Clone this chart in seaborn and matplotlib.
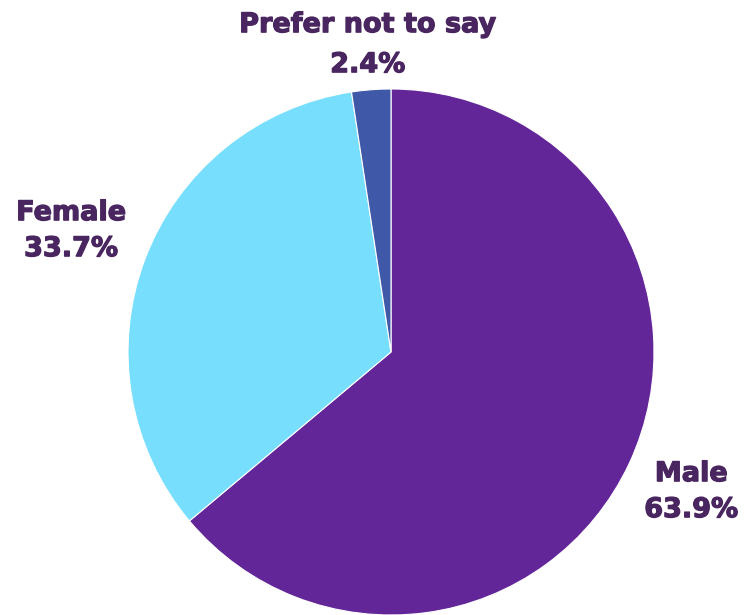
import numpy as np
import seaborn as sns
import matplotlib.pyplot as plt
import matplotlib.patheffects as pe

# dati
categories = ['Male', 'Female', 'Prefer not to say']
shares = [63.9, 33.7, 2.4]
colors = ['#622698', '#77DEFD', '#4058A8']

sns.set_theme(style='white')
plt.rcParams['font.family'] = ['DejaVu Sans']

fig = plt.figure(figsize=(7.53, 6.15), dpi=100)
ax = fig.add_axes([128 / 753, 0.0, 526 / 753, 526 / 615])

wedges, _ = ax.pie(
    shares,
    colors=colors,
    startangle=90,
    counterclock=False,
    radius=1,
    wedgeprops=dict(edgecolor='white', linewidth=0.8),
)

# etichette fuori dalla torta, centrate sull'angolo medio
label_dist = [1.26, 1.30, 1.17]
spacing = [1.5, 1.5, 1.7]
text_col = '#4A2660'
for w, name, val, d, ls in zip(wedges, categories, shares, label_dist, spacing):
    ang = np.deg2rad((w.theta1 + w.theta2) / 2)
    ax.text(d * np.cos(ang), d * np.sin(ang), f'{name}\n{val:.1f}%',
            ha='center', va='center', fontsize=19.5, fontweight='bold',
            color=text_col, linespacing=ls,
            path_effects=[pe.withStroke(linewidth=0.9, foreground=text_col)])

ax.set_xlim(-1, 1)
ax.set_ylim(-1, 1)
ax.set_aspect('equal')
ax.axis('off')

fig.savefig('out.png', dpi=100)
